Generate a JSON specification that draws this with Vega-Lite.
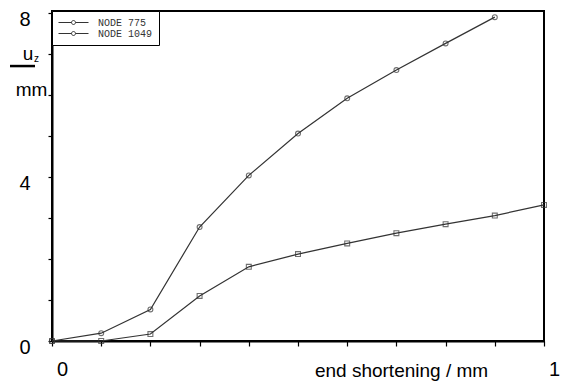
{
  "$schema": "https://vega.github.io/schema/vega-lite/v6.json",
  "autosize": "none",
  "width": 492,
  "height": 330,
  "padding": {"left": 52, "top": 11, "right": 19, "bottom": 42},
  "background": "white",
  "config": {
    "view": {"stroke": "black", "strokeWidth": 2},
    "font": "Liberation Sans",
    "axis": {"grid": false, "labelOverlap": false, "labelFlush": false, "labelBound": false, "domainColor": "black", "domainWidth": 2, "tickColor": "black", "tickWidth": 1.2, "labelColor": "black", "titleColor": "black", "labelFont": "Liberation Sans", "titleFont": "Liberation Sans"},
    "axisX": {
      "values": [0, 0.05, 0.1, 0.15, 0.2, 0.25, 0.3, 0.35, 0.4, 0.45, 0.5, 0.55, 0.6, 0.65, 0.7, 0.75, 0.8, 0.85, 0.9, 0.95, 1],
      "format": "~g",
      "labelExpr": "abs(datum.value) < 0.001 || abs(datum.value - 1) < 0.001 ? datum.label : ''",
      "labelAlign": "center", "labelBaseline": "top", "labelOffset": 10,
      "labelFontSize": 20, "labelPadding": 13, "tickSize": 5,
      "titleFontSize": 19, "titleFontWeight": "normal",
      "titleX": 349, "titleY": 35, "titleAlign": "center", "titleBaseline": "alphabetic", "titleAnchor": null
    },
    "axisY": {
      "values": [0, 0.2, 0.4, 0.6, 0.8, 1, 1.2, 1.4, 1.6, 1.8, 2, 2.2, 2.4, 2.6, 2.8, 3, 3.2, 3.4, 3.6, 3.8, 4, 4.2, 4.4, 4.6, 4.8, 5, 5.2, 5.4, 5.6, 5.8, 6, 6.2, 6.4, 6.6, 6.8, 7, 7.2, 7.4, 7.6, 7.8, 8],
      "format": "~g",
      "labelExpr": "abs(datum.value) < 0.01 || abs(datum.value - 4) < 0.01 || abs(datum.value - 8) < 0.01 ? datum.label : ''",
      "labelFontSize": 20, "labelPadding": 18, "labelOffset": 6, "tickSize": 4,
      "titleAngle": 0, "titleFontSize": 19, "titleFontWeight": "normal",
      "titleX": -21, "titleY": 84, "titleAlign": "center", "titleBaseline": "alphabetic", "titleAnchor": null
    }
  },
  "datasets": {
    "pts": [
      {"node": "NODE 775", "es": 0.0, "uz": 0.0},
      {"node": "NODE 775", "es": 0.1, "uz": 0.0},
      {"node": "NODE 775", "es": 0.2, "uz": 0.17},
      {"node": "NODE 775", "es": 0.3, "uz": 1.1},
      {"node": "NODE 775", "es": 0.4, "uz": 1.81},
      {"node": "NODE 775", "es": 0.5, "uz": 2.12},
      {"node": "NODE 775", "es": 0.6, "uz": 2.38},
      {"node": "NODE 775", "es": 0.7, "uz": 2.63},
      {"node": "NODE 775", "es": 0.8, "uz": 2.85},
      {"node": "NODE 775", "es": 0.9, "uz": 3.06},
      {"node": "NODE 775", "es": 1.0, "uz": 3.32},
      {"node": "NODE 1049", "es": 0.0, "uz": 0.0},
      {"node": "NODE 1049", "es": 0.1, "uz": 0.19},
      {"node": "NODE 1049", "es": 0.2, "uz": 0.77},
      {"node": "NODE 1049", "es": 0.3, "uz": 2.78},
      {"node": "NODE 1049", "es": 0.4, "uz": 4.04},
      {"node": "NODE 1049", "es": 0.5, "uz": 5.06},
      {"node": "NODE 1049", "es": 0.6, "uz": 5.92},
      {"node": "NODE 1049", "es": 0.7, "uz": 6.61},
      {"node": "NODE 1049", "es": 0.8, "uz": 7.26},
      {"node": "NODE 1049", "es": 0.9, "uz": 7.9}
    ],
    "one": [{"k": 1}]
  },
  "layer": [
    {
      "data": {"name": "pts"},
      "mark": {"type": "line", "strokeWidth": 1.2},
      "encoding": {
        "x": {"field": "es", "type": "quantitative", "title": "end shortening / mm", "scale": {"domain": [0, 1], "nice": false, "zero": false}},
        "y": {"field": "uz", "type": "quantitative", "title": "mm", "scale": {"domain": [0, 8.05], "nice": false, "zero": false}},
        "stroke": {
          "field": "node", "type": "nominal",
          "scale": {"domain": ["NODE 775", "NODE 1049"], "range": ["#333333", "#333333"]},
          "legend": {
            "title": null, "orient": "top-left", "offset": 0,
            "symbolType": "M-1,0H1.6M2.4,0H5M2.4,0A0.4,0.4 0 1,1 1.6,0A0.4,0.4 0 1,1 2.4,0",
            "symbolSize": 100, "symbolStrokeWidth": 1, "symbolFillColor": "white",
            "labelFont": "Liberation Mono", "labelFontSize": 10, "labelOffset": 29, "labelColor": "#333333",
            "padding": 6, "rowPadding": 0, "strokeColor": "black", "fillColor": "white"
          }
        },
        "detail": {"field": "node"}
      }
    },
    {
      "data": {"name": "pts"},
      "transform": [{"filter": "datum.node == 'NODE 775'"}],
      "mark": {"type": "point", "shape": "square", "filled": false, "size": 24, "strokeWidth": 1.1, "color": "#333333"},
      "encoding": {
        "x": {"field": "es", "type": "quantitative", "title": "end shortening / mm"},
        "y": {"field": "uz", "type": "quantitative", "title": "mm"}
      }
    },
    {
      "data": {"name": "pts"},
      "transform": [{"filter": "datum.node == 'NODE 1049'"}],
      "mark": {"type": "point", "shape": "circle", "filled": false, "size": 24, "strokeWidth": 1.1, "color": "#333333"},
      "encoding": {
        "x": {"field": "es", "type": "quantitative", "title": "end shortening / mm"},
        "y": {"field": "uz", "type": "quantitative", "title": "mm"}
      }
    },
    {
      "data": {"name": "one"},
      "mark": {"type": "text", "fontSize": 19, "font": "Liberation Sans", "align": "center", "baseline": "alphabetic", "color": "black"},
      "encoding": {"x": {"datum": -0.0488, "title": "end shortening / mm"}, "y": {"datum": 6.854, "title": "mm"}, "text": {"value": "u"}}
    },
    {
      "data": {"name": "one"},
      "mark": {"type": "text", "fontSize": 10, "font": "Liberation Sans", "align": "center", "baseline": "alphabetic", "color": "black"},
      "encoding": {"x": {"datum": -0.0315, "title": "end shortening / mm"}, "y": {"datum": 6.805, "title": "mm"}, "text": {"value": "z"}}
    },
    {
      "data": {"name": "one"},
      "mark": {"type": "rule", "strokeWidth": 2.5, "color": "black"},
      "encoding": {"x": {"datum": -0.0854, "title": "end shortening / mm"}, "x2": {"datum": -0.0346}, "y": {"datum": 6.707, "title": "mm"}}
    }
  ]
}
